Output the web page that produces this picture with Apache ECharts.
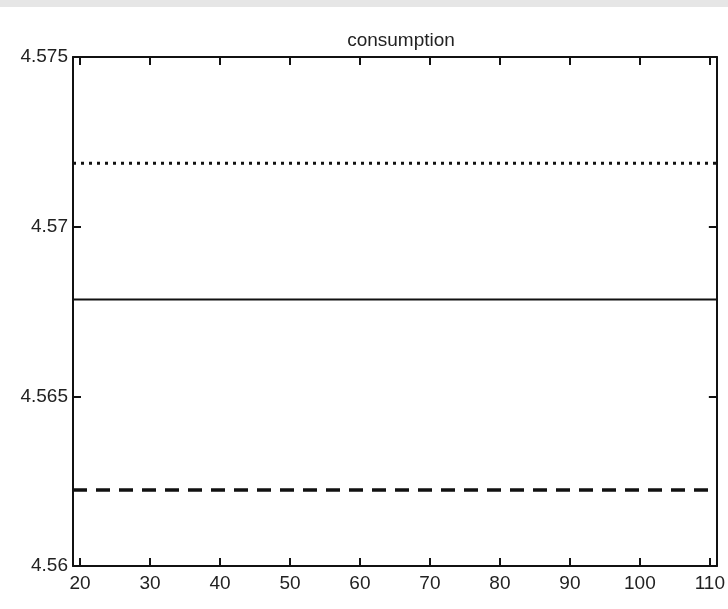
<!DOCTYPE html>
<html>
<head>
<meta charset="utf-8">
<script src="https://cdn.jsdelivr.net/npm/echarts@6/dist/echarts.min.js"></script>
<style>
  html, body { margin: 0; padding: 0; background: #fff; }
  #chart { width: 728px; height: 609px; }
</style>
</head>
<body>
<div id="chart"></div>
<script>
  // horizon shown on the x axis and the three constant paths
  const horizon = [19, 111];
  const xTicks = [20, 30, 40, 50, 60, 70, 80, 90, 100, 110];
  const yTicks = [4.56, 4.565, 4.57, 4.575];
  const upperPath = [4.57187, 4.57187]; // dotted
  const basePath = [4.56785, 4.56785];  // solid
  const lowerPath = [4.56224, 4.56224]; // dashed

  const font = 'Liberation Sans, Arial, sans-serif';
  const ink = '#111';

  const pairs = (vals) => horizon.map((x, i) => [x, vals[i]]);

  const tickStyle = { show: true, inside: true, length: 8, lineStyle: { color: ink, width: 2 } };

  const chart = echarts.init(document.getElementById('chart'));
  chart.setOption({
    animation: false,
    backgroundColor: '#fff',
    title: {
      text: 'consumption',
      left: 396,
      textAlign: 'center',
      top: 26,
      textStyle: { fontFamily: font, fontSize: 19, fontWeight: 'normal', color: '#222' },
    },
    graphic: [
      { type: 'rect', shape: { x: 0, y: 0, width: 728, height: 7 }, style: { fill: '#e6e6e6' } },
    ],
    grid: { left: 73, right: 10, top: 57, bottom: 43 },
    xAxis: [
      {
        type: 'value',
        min: horizon[0],
        max: horizon[1],
        axisLine: { lineStyle: { color: ink, width: 2 } },
        axisTick: Object.assign({ customValues: xTicks }, tickStyle),
        axisLabel: { customValues: xTicks, margin: 8, fontFamily: font, fontSize: 19, color: '#222' },
        splitLine: { show: false },
      },
      {
        type: 'value',
        position: 'top',
        min: horizon[0],
        max: horizon[1],
        axisLine: { show: true, lineStyle: { color: ink, width: 2 } },
        axisTick: Object.assign({ customValues: xTicks }, tickStyle),
        axisLabel: { show: false },
        splitLine: { show: false },
      },
    ],
    yAxis: [
      {
        type: 'value',
        min: yTicks[0],
        max: yTicks[yTicks.length - 1],
        interval: 0.005,
        axisLine: { show: true, lineStyle: { color: ink, width: 2 } },
        axisTick: tickStyle,
        axisLabel: {
          margin: 5,
          padding: [4, 0, 0, 0],
          fontFamily: font,
          fontSize: 19,
          color: '#222',
          formatter: (v) => String(+v.toFixed(3)),
        },
        splitLine: { show: false },
      },
      {
        type: 'value',
        position: 'right',
        min: yTicks[0],
        max: yTicks[yTicks.length - 1],
        interval: 0.005,
        axisLine: { show: true, lineStyle: { color: ink, width: 2 } },
        axisTick: tickStyle,
        axisLabel: { show: false },
        splitLine: { show: false },
      },
    ],
    series: [
      {
        type: 'line',
        data: pairs(upperPath),
        symbol: 'none',
        lineStyle: { color: ink, width: 3, type: [3, 5] },
      },
      {
        type: 'line',
        data: pairs(basePath),
        symbol: 'none',
        lineStyle: { color: ink, width: 2, type: 'solid' },
      },
      {
        type: 'line',
        data: pairs(lowerPath),
        symbol: 'none',
        lineStyle: { color: ink, width: 3.5, type: [14, 9] },
      },
    ],
  });
</script>
</body>
</html>
